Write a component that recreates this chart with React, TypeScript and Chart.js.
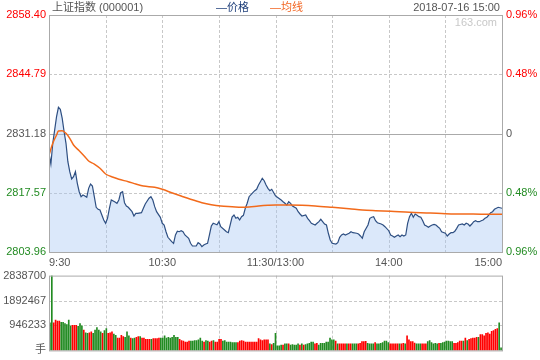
import React, { useEffect, useRef } from "react";
import { Chart, registerables } from "chart.js";
Chart.register(...registerables);

const FONT = '"Liberation Sans", Arial, "Noto Sans CJK SC", sans-serif';
const RED = "#ff0000";
const GREEN = "#228b22";
const GREY = "#555555";

const PREV_CLOSE = 2831.18;
const priceTicks = [2803.96, 2817.57, 2831.18, 2844.79, 2858.4];
const timeTicks = [0, 30, 60, 90, 120, 150, 180, 210, 240];
const timeLabels: Record<number, string> = { 0: "9:30", 60: "10:30", 120: "11:30/13:00", 180: "14:00", 240: "15:00" };
const volumeMax = 2838700;

// price line (minute from 9:30, trading minutes)
const priceMinutes = [
  0, 1, 2, 4, 5, 6, 7, 8, 9, 10, 11, 12, 13, 14, 15, 16, 17, 18, 19, 20,
  21, 22, 23, 24, 25, 26, 27, 28, 29, 30, 31, 32, 33, 35, 36, 37, 38, 39, 40, 41,
  42, 44, 45, 46, 47, 49, 50, 51, 53, 54, 55, 56, 57, 59, 60, 61, 62, 63, 65, 66,
  67, 68, 69, 70, 71, 72, 74, 75, 76, 78, 79, 80, 81, 82, 83, 84, 85, 86, 87, 88,
  89, 90, 91, 93, 94, 95, 96, 97, 98, 99, 100, 101, 102, 103, 104, 105, 106, 108, 109, 110,
  111, 112, 113, 114, 115, 116, 117, 118, 120, 121, 123, 124, 125, 126, 127, 128, 129, 131, 132, 133,
  134, 136, 137, 138, 139, 141, 142, 143, 144, 146, 147, 148, 149, 150, 152, 153, 154, 155, 156, 157,
  159, 160, 161, 163, 164, 165, 166, 167, 169, 170, 171, 172, 173, 174, 176, 177, 178, 180, 181, 182,
  183, 184, 185, 186, 187, 188, 189, 190, 191, 192, 193, 194, 195, 196, 197, 198, 199, 200, 201, 202,
  203, 204, 205, 206, 207, 208, 210, 211, 212, 213, 214, 215, 216, 217, 219, 220, 221, 222, 223, 224,
  225, 226, 227, 228, 229, 230, 231, 232, 233, 234, 235, 236, 237, 238, 240,
];
const priceValues = [
  2826.63, 2824.17, 2828.93, 2835.04, 2837.2, 2836.74, 2834.67, 2831.59, 2828.93, 2824.7, 2822.41, 2820.73, 2821.26, 2822.41, 2819.74, 2817.81, 2816.66, 2817.05, 2816.82, 2816.53,
  2818.59, 2819.58, 2819.12, 2816.66, 2814.23, 2813.77, 2813.61, 2812.46, 2811.31, 2810.55, 2811.7, 2814.0, 2815.91, 2815.45, 2815.15, 2815.91, 2817.58, 2817.81, 2815.29, 2814.53,
  2814.23, 2813.22, 2812.23, 2812.85, 2812.85, 2812.99, 2814.0, 2814.99, 2816.3, 2816.66, 2815.91, 2814.37, 2813.22, 2811.93, 2810.55, 2810.16, 2808.62, 2807.34, 2806.33, 2805.96,
  2807.87, 2808.75, 2808.62, 2808.85, 2808.62, 2807.87, 2807.11, 2805.96, 2805.34, 2805.34, 2806.1, 2805.8, 2805.18, 2805.57, 2805.8, 2805.96, 2807.87, 2809.93, 2810.55, 2810.39,
  2810.23, 2810.92, 2809.77, 2809.01, 2808.62, 2808.39, 2810.2, 2812.0, 2812.46, 2811.7, 2811.93, 2811.31, 2812.07, 2812.39, 2814.0, 2815.15, 2816.66, 2817.58, 2818.04, 2818.36,
  2819.35, 2820.11, 2820.89, 2820.34, 2819.35, 2818.59, 2818.04, 2818.36, 2816.85, 2816.53, 2815.91, 2815.51, 2815.15, 2814.76, 2815.51, 2815.15, 2814.53, 2814.0, 2813.22, 2812.69,
  2812.23, 2812.46, 2811.7, 2811.15, 2810.55, 2810.16, 2810.55, 2810.92, 2811.47, 2810.39, 2810.16, 2808.26, 2806.72, 2805.96, 2805.8, 2806.1, 2807.34, 2807.87, 2808.1, 2807.87,
  2808.26, 2808.62, 2808.39, 2808.26, 2808.1, 2807.64, 2807.11, 2808.62, 2810.16, 2811.7, 2811.93, 2812.07, 2811.15, 2810.69, 2810.39, 2810.16, 2809.77, 2808.85, 2807.87, 2807.64,
  2807.34, 2807.64, 2807.87, 2807.48, 2807.87, 2807.64, 2807.87, 2810.55, 2812.07, 2812.85, 2811.93, 2812.69, 2812.39, 2812.07, 2811.93, 2811.15, 2810.16, 2809.93, 2809.63, 2809.93,
  2810.16, 2810.32, 2810.16, 2809.77, 2809.4, 2808.62, 2808.26, 2807.64, 2808.1, 2808.39, 2808.39, 2808.72, 2809.4, 2810.16, 2810.39, 2810.16, 2810.55, 2810.39, 2809.93, 2810.39,
  2810.92, 2811.15, 2810.92, 2810.92, 2811.15, 2811.31, 2811.7, 2811.93, 2812.46, 2812.99, 2813.22, 2813.77, 2814.0, 2814.23, 2814.0,
];

// average price line
const avgMinutes = [0, 2, 4, 5, 7, 9, 11, 13, 16, 19, 21, 24, 27, 30, 34, 37, 42, 46, 50, 56, 60, 65, 70, 75, 81, 86, 91, 97, 102, 106, 111, 116, 120, 127, 134, 141, 150, 159, 166, 173, 181, 191, 202, 210, 221, 232, 240];
const avgValues = [
  2826.24, 2828.93, 2830.84, 2831.75, 2831.82, 2831.23, 2830.08, 2828.54, 2827.23, 2825.85, 2824.86, 2824.17, 2823.19, 2821.88, 2821.12, 2820.66, 2820.11, 2819.58, 2819.12, 2818.82,
  2818.36, 2817.58, 2816.82, 2816.07, 2815.29, 2814.83, 2814.53, 2814.37, 2814.23, 2814.3, 2814.53, 2814.69, 2814.76, 2814.76, 2814.69, 2814.53, 2814.23, 2813.91, 2813.61, 2813.45,
  2813.31, 2813.08, 2812.92, 2812.76, 2812.69, 2812.62, 2812.62,
];

// per-minute volume (手), 241 bars, and direction (1 = up/red, 0 = down/green)
const volumes = [
  1050000, 2840000, 1050000, 1150000, 1110000, 1110000, 1070000, 1070000, 1020000, 980000,
  1150000, 920000, 950000, 950000, 950000, 910000, 1020000, 930000, 770000, 670000,
  650000, 670000, 700000, 650000, 770000, 870000, 770000, 700000, 650000, 750000,
  830000, 650000, 670000, 700000, 620000, 570000, 470000, 470000, 570000, 520000,
  500000, 700000, 550000, 470000, 450000, 470000, 500000, 520000, 520000, 470000,
  470000, 420000, 420000, 420000, 420000, 450000, 450000, 450000, 470000, 470000,
  470000, 550000, 470000, 500000, 470000, 500000, 570000, 500000, 500000, 420000,
  370000, 350000, 320000, 320000, 350000, 350000, 350000, 370000, 370000, 400000,
  470000, 350000, 320000, 370000, 350000, 320000, 350000, 370000, 320000, 320000,
  420000, 420000, 350000, 370000, 320000, 320000, 320000, 300000, 300000, 300000,
  300000, 350000, 370000, 350000, 320000, 320000, 320000, 320000, 320000, 320000,
  320000, 450000, 400000, 370000, 400000, 400000, 400000,
  250000, 220000, 270000, 650000,
  170000, 170000, 200000, 200000, 250000, 250000, 250000, 200000, 220000, 200000,
  200000, 250000, 200000, 250000, 200000, 220000, 250000, 270000, 320000, 320000,
  250000, 270000, 200000, 270000, 270000, 270000, 320000, 320000, 470000, 400000,
  400000, 350000, 250000, 250000, 250000, 250000, 250000, 250000, 250000, 250000,
  250000, 250000, 250000, 250000, 270000, 330000, 330000, 340000, 270000, 250000,
  250000, 250000, 300000, 250000, 250000, 270000, 300000, 350000, 350000, 300000,
  250000, 250000, 250000, 250000, 250000, 250000, 250000, 270000, 250000, 550000,
  400000, 330000, 330000, 280000, 250000, 250000, 250000, 250000, 250000, 250000,
  330000, 370000, 300000, 250000, 270000, 250000, 270000, 270000, 300000, 320000,
  350000, 350000, 330000, 330000, 270000, 270000, 300000, 350000, 350000, 350000,
  470000, 370000, 420000, 450000, 470000, 470000, 500000, 500000, 600000, 600000,
  550000, 650000, 670000, 620000, 720000, 750000, 800000, 830000, 1050000, 100000,
];
const volumeUp = [
  0, 0, 1, 1, 1, 1, 0, 0, 0, 0,
  0, 0, 1, 1, 1, 0, 0, 0, 1, 0,
  0, 1, 1, 0, 0, 0, 0, 0, 1, 0,
  0, 1, 1, 1, 0, 0, 1, 1, 1, 1,
  0, 0, 0, 1, 0, 0, 1, 1, 0, 1,
  1, 1, 1, 1, 0, 1, 1, 1, 1, 0,
  0, 0, 0, 0, 0, 0, 0, 0, 0, 1,
  1, 1, 1, 1, 1, 0, 0, 0, 0, 0,
  0, 0, 1, 0, 0, 1, 1, 0, 1, 1,
  1, 1, 0, 0, 0, 0, 0, 0, 0, 0,
  1, 1, 1, 1, 1, 1, 1, 1, 1, 1,
  1, 1, 1, 1, 1, 1, 1,
  0, 1, 0, 0,
  0, 0, 0, 1, 0, 0, 1, 0, 0, 0,
  0, 0, 1, 0, 1, 0, 0, 0, 0, 0,
  1, 1, 0, 0, 0, 0, 0, 0, 0, 0,
  0, 1, 0, 1, 1, 1, 1, 0, 1, 1,
  0, 0, 0, 1, 1, 1, 1, 1, 0, 0,
  0, 0, 1, 0, 0, 0, 0, 0, 0, 0,
  1, 1, 1, 1, 1, 0, 1, 1, 0, 1,
  1, 1, 1, 1, 0, 0, 0, 1, 1, 1,
  0, 0, 0, 0, 0, 0, 1, 0, 0, 0,
  0, 0, 0, 0, 1, 1, 1, 1, 1, 0,
  1, 0, 1, 1, 1, 1, 1, 0, 1, 1,
  1, 1, 1, 1, 1, 1, 1, 1, 0, 0,
];

const tickFont = { family: FONT, size: 11 };
const noGrid = { display: false, drawTicks: false, tickLength: 0 };

function priceColor(v: number) {
  if (Math.abs(v - PREV_CLOSE) < 0.001) return GREY;
  return v > PREV_CLOSE ? RED : GREEN;
}

function line(ctx: CanvasRenderingContext2D, x1: number, y1: number, x2: number, y2: number) {
  ctx.beginPath();
  ctx.moveTo(x1, y1);
  ctx.lineTo(x2, y2);
  ctx.stroke();
}

const crisp = (v: number) => Math.round(v) + 0.5;

const topGridPlugin = {
  id: "topGrid",
  beforeDatasetsDraw(chart: any) {
    const { ctx, chartArea: a, scales } = chart;
    ctx.save();
    ctx.lineWidth = 1;
    ctx.strokeStyle = "#c8c8c8";
    ctx.setLineDash([3, 2]);
    timeTicks.slice(1, -1).forEach((m) => {
      const px = crisp(scales.x.getPixelForValue(m));
      line(ctx, px, a.top, px, a.bottom);
    });
    [priceTicks[1], priceTicks[3]].forEach((v) => {
      const py = crisp(scales.y.getPixelForValue(v));
      line(ctx, a.left, py, a.right, py);
    });
    ctx.setLineDash([]);
    ctx.strokeStyle = "#aaaaaa";
    const pc = crisp(scales.y.getPixelForValue(PREV_CLOSE));
    line(ctx, a.left, pc, a.right, pc);
    ctx.restore();
  },
  afterDatasetsDraw(chart: any) {
    const { ctx, chartArea: a } = chart;
    ctx.save();
    ctx.strokeStyle = "#aaaaaa";
    ctx.lineWidth = 1;
    ctx.strokeRect(a.left + 0.5, a.top + 0.5, a.right - a.left, a.bottom - a.top);
    ctx.restore();
  },
};

const volGridPlugin = {
  id: "volGrid",
  beforeDatasetsDraw(chart: any) {
    const { ctx, chartArea: a, scales } = chart;
    ctx.save();
    ctx.lineWidth = 1;
    ctx.strokeStyle = "#c8c8c8";
    ctx.setLineDash([3, 2]);
    const n = volumes.length;
    timeTicks.slice(1, -1).forEach((m) => {
      const v = (m * n) / 240 - 0.5;
      const px = crisp(scales.x.getPixelForValue(v));
      line(ctx, px, a.top, px, a.bottom);
    });
    [volumeMax / 3, (2 * volumeMax) / 3].forEach((v) => {
      const py = crisp(scales.y.getPixelForValue(v));
      line(ctx, a.left, py, a.right, py);
    });
    ctx.restore();
  },
  afterDatasetsDraw(chart: any) {
    const { ctx, chartArea: a } = chart;
    ctx.save();
    ctx.strokeStyle = "#aaaaaa";
    ctx.lineWidth = 1;
    ctx.strokeRect(a.left + 0.5, a.top + 0.5, a.right - a.left, a.bottom - a.top);
    ctx.restore();
  },
};

export default function App() {
  const topRef = useRef<HTMLCanvasElement>(null);
  const volRef = useRef<HTMLCanvasElement>(null);

  useEffect(() => {
    document.body.style.margin = "0";
    const priceData = priceMinutes.map((m, i) => ({ x: m, y: priceValues[i] }));
    const avgData = avgMinutes.map((m, i) => ({ x: m, y: avgValues[i] }));

    const top = new Chart(topRef.current!, {
      type: "line",
      data: {
        datasets: [
          {
            data: avgData,
            borderColor: "#f26a1b",
            borderWidth: 1.5,
            pointRadius: 0,
            fill: false,
            tension: 0.4,
            cubicInterpolationMode: "monotone",
            order: 1,
          },
          {
            data: priceData,
            borderColor: "#2e4f82",
            borderWidth: 1.2,
            pointRadius: 0,
            fill: "start",
            backgroundColor: "rgba(165,198,242,0.4)",
            tension: 0,
            order: 2,
          },
        ],
      },
      options: {
        responsive: false,
        devicePixelRatio: 1,
        animation: false,
        events: [],
        layout: { padding: { top: 15, left: 0, right: 0, bottom: 0 } },
        plugins: { legend: { display: false }, tooltip: { enabled: false } },
        scales: {
          x: {
            type: "linear",
            min: 0,
            max: 240,
            offset: false,
            afterBuildTicks: (s: any) => {
              s.ticks = timeTicks.map((v) => ({ value: v }));
            },
            afterFit: (s: any) => {
              s.height = 18;
            },
            grid: noGrid,
            border: { display: false },
            ticks: {
              autoSkip: false,
              maxRotation: 0,
              align: "inner",
              padding: 4,
              color: GREY,
              font: tickFont,
              callback: (v: any) => timeLabels[v as number] ?? "",
            },
          },
          y: {
            type: "linear",
            position: "left",
            min: priceTicks[0],
            max: priceTicks[4],
            afterBuildTicks: (s: any) => {
              s.ticks = priceTicks.map((v) => ({ value: v }));
            },
            afterFit: (s: any) => {
              s.width = 49;
            },
            grid: noGrid,
            border: { display: false },
            ticks: {
              padding: 3,
              font: tickFont,
              color: (c: any) => priceColor(c.tick.value),
              callback: (v: any) => Number(v).toFixed(2),
            },
          },
          y2: {
            type: "linear",
            position: "right",
            min: priceTicks[0],
            max: priceTicks[4],
            afterBuildTicks: (s: any) => {
              s.ticks = priceTicks.map((v) => ({ value: v }));
            },
            afterFit: (s: any) => {
              s.width = 38;
            },
            grid: noGrid,
            border: { display: false },
            ticks: {
              padding: 4,
              font: tickFont,
              color: (c: any) => priceColor(c.tick.value),
              callback: (v: any) => {
                const pct = Math.abs(((Number(v) - PREV_CLOSE) / PREV_CLOSE) * 100);
                return pct < 0.005 ? "0" : pct.toFixed(2) + "%";
              },
            },
          },
        },
      },
      plugins: [topGridPlugin],
    } as any);

    const vol = new Chart(volRef.current!, {
      type: "bar",
      data: {
        datasets: [
          {
            data: volumes.map((v, i) => ({ x: i, y: v })),
            backgroundColor: volumeUp.map((u) => (u ? RED : GREEN)),
            barThickness: 1,
            borderWidth: 0,
          },
        ],
      },
      options: {
        responsive: false,
        devicePixelRatio: 1,
        animation: false,
        events: [],
        layout: { padding: { top: 9, left: 0, right: 38, bottom: 9 } },
        plugins: { legend: { display: false }, tooltip: { enabled: false } },
        scales: {
          x: {
            type: "linear",
            min: -0.5,
            max: volumes.length - 0.5,
            offset: false,
            display: false,
            grid: { offset: false },
          },
          y: {
            type: "linear",
            position: "left",
            min: 0,
            max: volumeMax,
            afterBuildTicks: (s: any) => {
              s.ticks = [0, volumeMax / 3, (2 * volumeMax) / 3, volumeMax].map((v) => ({ value: v }));
            },
            afterFit: (s: any) => {
              s.width = 49;
            },
            grid: noGrid,
            border: { display: false },
            ticks: {
              padding: 3,
              font: tickFont,
              color: GREY,
              callback: (v: any) => (Number(v) === 0 ? "手" : String(Math.round(Number(v)))),
            },
          },
        },
      },
      plugins: [volGridPlugin],
    } as any);

    return () => {
      top.destroy();
      vol.destroy();
    };
  }, []);

  const txt: React.CSSProperties = {
    position: "absolute",
    whiteSpace: "nowrap",
    fontFamily: FONT,
    fontSize: 11,
    lineHeight: "13px",
  };

  return (
    <div style={{ position: "relative", width: 540, height: 360, background: "#fff", overflow: "hidden" }}>
      <canvas ref={topRef} width={540} height={270} style={{ position: "absolute", left: 0, top: 0, width: 540, height: 270 }} />
      <canvas ref={volRef} width={540} height={94} style={{ position: "absolute", left: 0, top: 266, width: 540, height: 94 }} />
      <span style={{ ...txt, left: 52, top: 1, color: GREY }}>上证指数 (000001)</span>
      <span style={{ ...txt, left: 216, top: 1, color: "#1f3f7a" }}>—价格</span>
      <span style={{ ...txt, left: 270, top: 1, color: "#f26522" }}>—均线</span>
      <span style={{ ...txt, right: 40, top: 1, color: GREY }}>2018-07-16 15:00</span>
      <span style={{ ...txt, right: 43, top: 16, color: "#c8c8c8" }}>163.com</span>
    </div>
  );
}
